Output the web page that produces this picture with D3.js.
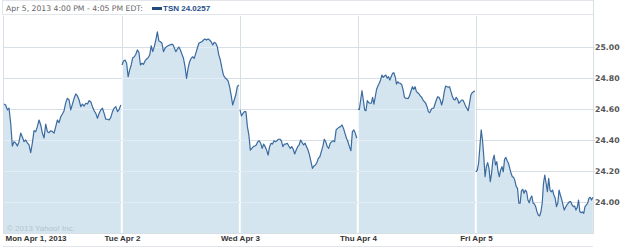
<!DOCTYPE html>
<meta charset="utf-8">
<script src="https://d3js.org/d3.v7.min.js"></script>
<style>
  body { margin: 0; background: #fff; }
  svg { display: block; font-family: "Liberation Sans", Arial, sans-serif; }
</style>
<body>
<div id="chart"></div>
<script>
// day labels along the bottom
var days = ["Mon Apr 1, 2013", "Tue Apr 2", "Wed Apr 3", "Thu Apr 4", "Fri Apr 5"];
var yTicks = [24.00, 24.20, 24.40, 24.60, 24.80, 25.00];

// 5 minute prices, one array per trading day
var mon = [24.632, 24.626, 24.594, 24.606, 24.510, 24.361, 24.389, 24.381, 24.361, 24.389,
  24.445, 24.419, 24.389, 24.400, 24.381, 24.368, 24.318, 24.381, 24.460, 24.454,
  24.486, 24.529, 24.497, 24.445, 24.413, 24.503, 24.454, 24.447, 24.460, 24.454,
  24.445, 24.486, 24.529, 24.512, 24.550, 24.568, 24.589, 24.641, 24.669, 24.658,
  24.594, 24.632, 24.669, 24.697, 24.684, 24.658, 24.615, 24.632, 24.619, 24.637,
  24.632, 24.654, 24.647, 24.615, 24.589, 24.572, 24.540, 24.572, 24.594, 24.605,
  24.572, 24.534, 24.534, 24.529, 24.546, 24.583, 24.605, 24.615, 24.583, 24.598, 24.626];
var tue = [24.884, 24.910, 24.916, 24.895, 24.808, 24.852, 24.884, 24.931, 24.937, 24.953,
  24.981, 24.966, 24.884, 24.895, 24.888, 24.910, 24.923, 24.931, 24.948, 25.008,
  24.970, 25.002, 25.045, 25.098, 25.039, 25.034, 25.024, 24.970, 24.992, 25.002,
  25.008, 25.013, 25.017, 25.017, 24.995, 24.970, 24.987, 25.000, 24.981, 24.953,
  24.927, 24.873, 24.798, 24.863, 24.905, 24.927, 24.937, 24.927, 24.959, 24.992,
  25.024, 25.030, 25.034, 25.045, 25.052, 25.045, 25.052, 25.045, 25.034, 25.013,
  25.030, 25.024, 25.002, 24.948, 24.916, 24.863, 24.819, 24.802, 24.794, 24.781,
  24.744, 24.690, 24.626, 24.658, 24.690, 24.744, 24.755];
var wed = [24.594, 24.555, 24.572, 24.583, 24.583, 24.486, 24.432, 24.335, 24.346, 24.357,
  24.361, 24.368, 24.389, 24.395, 24.379, 24.346, 24.374, 24.357, 24.335, 24.303,
  24.357, 24.379, 24.374, 24.395, 24.389, 24.395, 24.405, 24.405, 24.395, 24.357,
  24.374, 24.374, 24.379, 24.361, 24.346, 24.357, 24.340, 24.310, 24.335, 24.357,
  24.368, 24.400, 24.383, 24.368, 24.379, 24.357, 24.335, 24.303, 24.260, 24.217,
  24.232, 24.239, 24.254, 24.282, 24.292, 24.325, 24.357, 24.405, 24.389, 24.357,
  24.346, 24.379, 24.389, 24.395, 24.389, 24.465, 24.475, 24.482, 24.486, 24.497,
  24.475, 24.443, 24.411, 24.389, 24.357, 24.331, 24.454, 24.465, 24.443, 24.411];
var thu = [24.598, 24.598, 24.658, 24.718, 24.658, 24.594, 24.589, 24.654, 24.641, 24.637,
  24.637, 24.675, 24.632, 24.679, 24.727, 24.748, 24.766, 24.787, 24.819, 24.804,
  24.813, 24.819, 24.798, 24.808, 24.787, 24.808, 24.830, 24.834, 24.808, 24.761,
  24.776, 24.766, 24.766, 24.755, 24.723, 24.675, 24.669, 24.669, 24.669, 24.690,
  24.718, 24.744, 24.727, 24.744, 24.712, 24.705, 24.697, 24.684, 24.675, 24.658,
  24.647, 24.637, 24.615, 24.583, 24.576, 24.594, 24.605, 24.605, 24.632, 24.658,
  24.679, 24.675, 24.658, 24.626, 24.658, 24.712, 24.748, 24.744, 24.740, 24.744,
  24.712, 24.684, 24.663, 24.658, 24.675, 24.663, 24.637, 24.647, 24.658, 24.658,
  24.641, 24.619, 24.605, 24.589, 24.637, 24.690, 24.705, 24.712, 24.718];
var fri = [24.195, 24.206, 24.250, 24.357, 24.465, 24.400, 24.292, 24.163, 24.228, 24.254,
  24.217, 24.131, 24.185, 24.271, 24.303, 24.239, 24.260, 24.195, 24.163, 24.206,
  24.228, 24.195, 24.275, 24.288, 24.266, 24.250, 24.217, 24.185, 24.163, 24.159,
  24.137, 24.099, 24.088, 23.992, 23.992, 24.073, 24.082, 24.056, 24.077, 24.066,
  24.013, 23.995, 24.024, 24.039, 23.992, 23.987, 23.970, 23.937, 23.916, 23.910,
  23.937, 23.992, 24.121, 24.174, 24.121, 24.066, 24.153, 24.077, 24.066, 24.077,
  24.045, 24.024, 23.970, 23.992, 24.077, 24.045, 24.017, 23.981, 23.948, 23.966,
  23.981, 23.992, 24.002, 24.002, 23.981, 23.970, 23.974, 23.948, 23.966, 24.013,
  23.937, 23.931, 23.937, 23.927, 23.970, 23.981, 23.992, 24.024, 24.030, 24.013, 24.030];

var series = [mon, tue, wed, thu, fri];

// flatten into points, with a null between days so the line breaks overnight
var points = [];
series.forEach(function(arr, day) {
  arr.forEach(function(v, j) {
    points.push({t: day + j / (arr.length - 1) * 0.99, v: v});
  });
  if (day < series.length - 1) points.push(null);
});

var W = 625, H = 248;
var plot = {left: 3, right: 593, top: 16, bottom: 233};

var svg = d3.select("#chart").append("svg")
  .attr("width", W)
  .attr("height", H);

var x = d3.scaleLinear().domain([0, 5]).range([plot.left + 1, plot.right + 1]);
var y = d3.scaleLinear().domain([23.80, 25.20]).range([plot.bottom, plot.top]);

// header box
svg.append("rect")
  .attr("x", plot.left - 0.5).attr("y", 0.5)
  .attr("width", plot.right - plot.left + 1).attr("height", 14)
  .attr("fill", "#fff").attr("stroke", "#e2e6ea");
svg.append("text")
  .attr("x", 6).attr("y", 11)
  .attr("font-family", "DejaVu Sans, Verdana, sans-serif")
  .attr("font-size", "7.7px").attr("fill", "#666")
  .text("Apr 5, 2013 4:00 PM - 4:05 PM EDT:");
svg.append("rect")
  .attr("x", 152).attr("y", 7).attr("width", 10).attr("height", 3)
  .attr("fill", "#1f4a7c");
svg.append("text")
  .attr("x", 163).attr("y", 11)
  .attr("font-size", "8px").attr("font-weight", "bold").attr("fill", "#1f4e8c")
  .text("TSN 24.0257");

// grid lines
function drawGrid(g, hColor, vColor) {
  g.selectAll(".hg").data(yTicks).enter().append("line")
    .attr("x1", plot.left).attr("x2", plot.right + 2)
    .attr("y1", function(d) { return Math.round(y(d)) + 0.5; })
    .attr("y2", function(d) { return Math.round(y(d)) + 0.5; })
    .attr("stroke", hColor);
  g.selectAll(".vg").data([1, 2, 3, 4]).enter().append("line")
    .attr("x1", function(d) { return Math.round(x(d)) + 0.5; })
    .attr("x2", function(d) { return Math.round(x(d)) + 0.5; })
    .attr("y1", plot.top).attr("y2", plot.bottom)
    .attr("stroke", vColor);
}
drawGrid(svg.append("g"), "#d6dee6", "#d6dee6");

var area = d3.area()
  .defined(function(d) { return d !== null; })
  .x(function(d) { return x(d.t); })
  .y0(plot.bottom)
  .y1(function(d) { return y(d.v); });

var line = d3.line()
  .defined(function(d) { return d !== null; })
  .x(function(d) { return x(d.t); })
  .y(function(d) { return y(d.v); });

svg.append("clipPath").attr("id", "fillclip")
  .append("path").attr("d", area(points));

svg.append("path")
  .attr("d", area(points))
  .attr("fill", "#d5e5f0");

// lighter grid lines inside the filled part
drawGrid(svg.append("g").attr("clip-path", "url(#fillclip)"), "#e3edf5", "#f4f8fb");

// frame
svg.append("line").attr("x1", plot.left + 0.5).attr("x2", plot.left + 0.5)
  .attr("y1", plot.top).attr("y2", plot.bottom + 1).attr("stroke", "#d6dee6");
svg.append("line").attr("x1", plot.right + 0.5).attr("x2", plot.right + 0.5)
  .attr("y1", 0).attr("y2", plot.bottom + 1).attr("stroke", "#d6dee6");
svg.append("line").attr("x1", plot.left).attr("x2", plot.right)
  .attr("y1", plot.bottom + 0.5).attr("y2", plot.bottom + 0.5).attr("stroke", "#d6dee6");
svg.append("line").attr("x1", plot.left).attr("x2", plot.right)
  .attr("y1", H - 1.5).attr("y2", H - 1.5).attr("stroke", "#e2e6ea");

svg.append("path")
  .attr("d", line(points))
  .attr("fill", "none")
  .attr("stroke", "#3a6a9e")
  .attr("stroke-width", 1.2)
  .attr("stroke-linejoin", "round");

// watermark
svg.append("text")
  .attr("x", 7).attr("y", 231)
  .attr("font-size", "8px").attr("fill", "#b3c3cf")
  .text("\u00a9 2013 Yahoo! Inc.");

// y labels on the right
var yAxis = svg.append("g")
  .attr("transform", "translate(" + (plot.right + 2) + ",0)")
  .call(d3.axisRight(y).tickValues(yTicks).tickSize(0).tickPadding(0)
    .tickFormat(d3.format(".2f")));
yAxis.select(".domain").remove();
yAxis.selectAll("text")
  .attr("font-family", "DejaVu Sans, Verdana, sans-serif")
  .attr("font-size", "7.8px").attr("font-weight", "bold").attr("fill", "#555");

// day labels
var xAxis = svg.append("g")
  .attr("transform", "translate(0," + (plot.bottom + 2) + ")")
  .call(d3.axisBottom(x).tickValues([0, 1, 2, 3, 4]).tickSize(0).tickPadding(0)
    .tickFormat(function(d) { return days[d]; }));
xAxis.select(".domain").remove();
xAxis.selectAll("text")
  .attr("font-family", "Liberation Sans, Arial, sans-serif")
  .attr("font-size", "8px").attr("font-weight", "bold").attr("fill", "#333")
  .attr("text-anchor", function(d) { return d === 0 ? "start" : "middle"; })
  .attr("dx", function(d) { return d === 0 ? 1 : 0; });
</script>
</body>
